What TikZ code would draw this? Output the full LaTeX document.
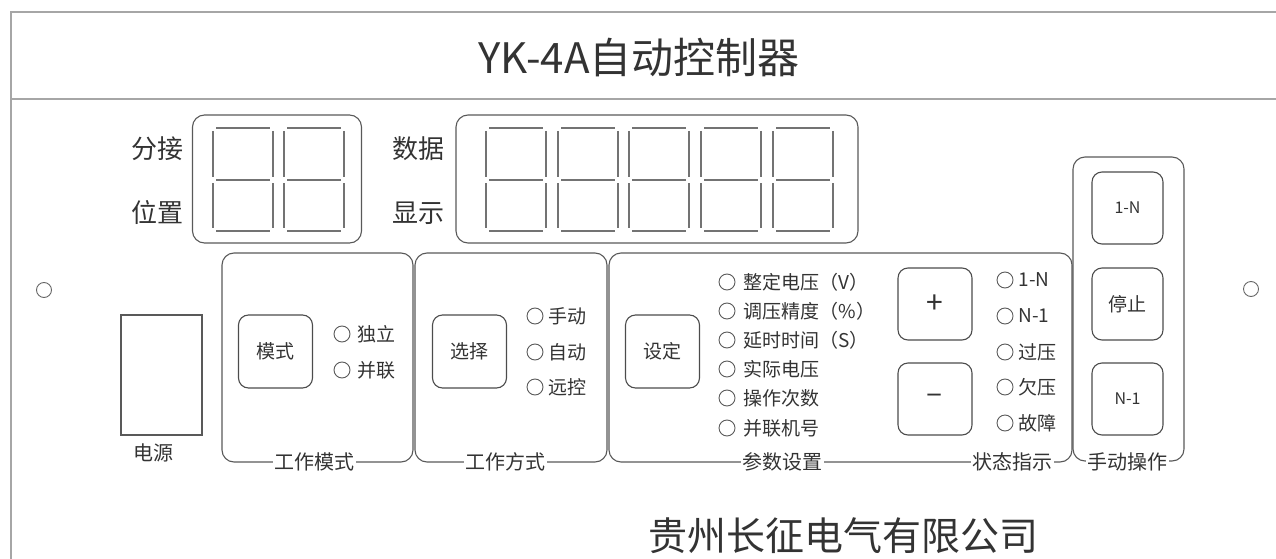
\documentclass[tikz,border=0pt]{standalone}
\usepackage{fontspec}
\setmainfont{Noto Sans CJK SC}
\usetikzlibrary{positioning}

\begin{document}
\begin{tikzpicture}[x=1pt, y=-1pt,
  frame/.style={draw=gray!70, line width=2.2pt},
  panel/.style={draw=black!65, line width=1.1pt, rounded corners=12pt},
  button/.style={draw=black!70, line width=1.1pt, rounded corners=10pt, minimum width=74pt, minimum height=73pt, text=black!80, font=\fontsize{19}{19}\selectfont},
  led/.style={circle, draw=black!65, line width=0.9pt, minimum size=16pt, inner sep=0pt},
  hole/.style={circle, draw=black!60, line width=0.9pt, minimum size=15pt, inner sep=0pt},
  opt/.style={inner sep=0pt, text=black!80, font=\fontsize{19}{19}\selectfont},
  lbl/.style={text=black!80, font=\fontsize{26}{26}\selectfont},
  plabel/.style={fill=white, inner sep=1.5pt, text=black!80, font=\fontsize{20}{20}\selectfont},
  seg/.style={draw=black!55, line width=1.8pt},
  ]
\useasboundingbox (0,0) rectangle (1276,559);

\draw[frame] (11,559) -- (11,12) -- (1276,12);
\draw[frame] (11,99) -- (1276,99);
\node[text=black!80, font=\fontsize{42}{42}\selectfont] (title) at (639,58) {YK-4A自动控制器};

\node[lbl] (fenjie) at (157,149) {分接};
\node[lbl] (weizhi) at (157,213) {位置};
\node[panel, minimum width=169pt, minimum height=128pt] (tapbox) at (277,179) {};
\node[lbl] (shuju) at (418,149) {数据};
\node[lbl] (xianshi) at (418,213) {显示};
\node[panel, minimum width=402pt, minimum height=128pt] (databox) at (657,179) {};

\foreach \dx in {212,283,485,557,628,700,772} {
  \draw[seg] (\dx+4,128) -- (\dx+58,128);
  \draw[seg] (\dx+4,180) -- (\dx+58,180);
  \draw[seg] (\dx+4,231) -- (\dx+58,231);
  \draw[seg] (\dx+1,131) -- (\dx+1,177);
  \draw[seg] (\dx+1,183) -- (\dx+1,228);
  \draw[seg] (\dx+61,131) -- (\dx+61,177);
  \draw[seg] (\dx+61,183) -- (\dx+61,228);
}

\node[hole] (holel) at (44,290) {};
\node[hole] (holer) at (1251,289) {};

\node[draw=black!65, line width=1.1pt, minimum width=81pt, minimum height=120pt] (power) at (161.5,375) {};
\node[plabel] (powerlbl) at (153,453) {电源};

\node[panel, minimum width=191pt, minimum height=209pt] (modep) at (317.5,357.5) {};
\node[plabel] at (314,462) {工作模式};
\node[button] (modebtn) at (275.5,351.5) {模式};
\node[led] (indep) at (342,334) {};
\node[opt, right=7pt of indep] {独立};
\node[led] (para) at (342,370) {};
\node[opt, right=7pt of para] {并联};

\node[panel, minimum width=192pt, minimum height=209pt] (methp) at (511,357.5) {};
\node[plabel] at (505,462) {工作方式};
\node[button] (selbtn) at (469.5,351.5) {选择};
\node[led] (manual) at (535,316) {};
\node[opt, right=5pt of manual] {手动};
\node[led] (auto) at (535,352) {};
\node[opt, right=5pt of auto] {自动};
\node[led] (remote) at (535,387) {};
\node[opt, right=5pt of remote] {远控};

\node[panel, minimum width=463pt, minimum height=209pt] (parap) at (840.5,357.5) {};
\node[plabel] at (782,462) {参数设置};
\node[plabel] at (1012,462) {状态指示};
\node[button] (setbtn) at (662.5,351.5) {设定};
\node[led] (p1) at (727,282) {};
\node[opt, right=8pt of p1] {整定电压（V）};
\node[led] (p2) at (727,311) {};
\node[opt, right=8pt of p2] {调压精度（\%）};
\node[led] (p3) at (727,340) {};
\node[opt, right=8pt of p3] {延时时间（S）};
\node[led] (p4) at (727,369) {};
\node[opt, right=8pt of p4] {实际电压};
\node[led] (p5) at (727,398) {};
\node[opt, right=8pt of p5] {操作次数};
\node[led] (p6) at (727,428) {};
\node[opt, right=8pt of p6] {并联机号};
\node[button, minimum height=72pt, font=\fontsize{30}{30}\selectfont] (plus) at (935,304) {+};
\node[button, minimum height=72pt, font=\fontsize{30}{30}\selectfont] (minus) at (935,399) {–};
\node[led] (s1) at (1005,280) {};
\node[opt, right=5pt of s1] {1-N};
\node[led] (s2) at (1005,316) {};
\node[opt, right=5pt of s2] {N-1};
\node[led] (s3) at (1005,352) {};
\node[opt, right=5pt of s3] {过压};
\node[led] (s4) at (1005,387) {};
\node[opt, right=5pt of s4] {欠压};
\node[led] (s5) at (1005,423) {};
\node[opt, right=5pt of s5] {故障};

\node[panel, minimum width=111pt, minimum height=304pt] (handp) at (1128.5,309) {};
\node[plabel] at (1127,462) {手动操作};
\node[button, minimum width=71pt, minimum height=72pt, font=\fontsize{16}{16}\selectfont] (b1n) at (1127.5,208) {1-N};
\node[button, minimum width=71pt, minimum height=72pt] (bstop) at (1127.5,304) {停止};
\node[button, minimum width=71pt, minimum height=72pt, font=\fontsize{16}{16}\selectfont] (bn1) at (1127.5,399) {N-1};

\node[text=black!80, font=\fontsize{39}{39}\selectfont] (company) at (843,536) {贵州长征电气有限公司};

\end{tikzpicture}
\end{document}
